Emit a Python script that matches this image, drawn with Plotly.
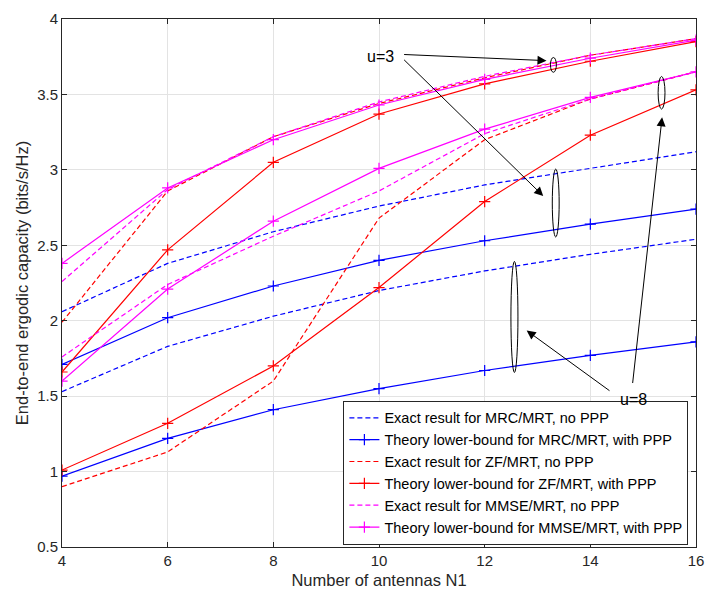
import plotly.graph_objects as go

N = [4, 6, 8, 10, 12, 14, 16]
mrc_exact_u3 = [2.06, 2.38, 2.59, 2.76, 2.90, 3.01, 3.12]
mrc_theory_u3 = [1.71, 2.02, 2.23, 2.40, 2.53, 2.64, 2.74]
mrc_exact_u8 = [1.53, 1.83, 2.03, 2.20, 2.33, 2.44, 2.54]
mrc_theory_u8 = [0.97, 1.22, 1.41, 1.55, 1.67, 1.77, 1.86]
zf_exact_u3 = [1.99, 2.86, 3.22, 3.44, 3.61, 3.76, 3.87]
zf_theory_u3 = [1.66, 2.47, 3.05, 3.37, 3.57, 3.72, 3.85]
zf_exact_u8 = [0.90, 1.13, 1.60, 2.68, 3.20, 3.47, 3.65]
zf_theory_u8 = [1.01, 1.32, 1.70, 2.22, 2.79, 3.23, 3.53]
mmse_exact_u3 = [2.26, 2.87, 3.22, 3.45, 3.62, 3.76, 3.87]
mmse_theory_u3 = [2.38, 2.88, 3.20, 3.43, 3.60, 3.74, 3.86]
mmse_exact_u8 = [1.76, 2.24, 2.56, 2.86, 3.24, 3.47, 3.65]
mmse_theory_u8 = [1.60, 2.21, 2.66, 3.01, 3.27, 3.48, 3.65]

labels = [
    "Exact result for MRC/MRT, no PPP",
    "Theory lower-bound for MRC/MRT, with PPP",
    "Exact result for ZF/MRT, no PPP",
    "Theory lower-bound for ZF/MRT, with PPP",
    "Exact result for MMSE/MRT, no PPP",
    "Theory lower-bound for MMSE/MRT, with PPP",
]

BLUE, RED, MAG = "#0000ff", "#ff0000", "#ff00ff"
series = [
    (labels[0], BLUE, False, [mrc_exact_u3, mrc_exact_u8]),
    (labels[1], BLUE, True, [mrc_theory_u3, mrc_theory_u8]),
    (labels[2], RED, False, [zf_exact_u3, zf_exact_u8]),
    (labels[3], RED, True, [zf_theory_u3, zf_theory_u8]),
    (labels[4], MAG, False, [mmse_exact_u3, mmse_exact_u8]),
    (labels[5], MAG, True, [mmse_theory_u3, mmse_theory_u8]),
]

fig = go.Figure()
for i, (name, color, theory, ys) in enumerate(series):
    for j, y in enumerate(ys):
        if theory:
            fig.add_trace(go.Scatter(
                x=N, y=y, name=name, legendgroup=name, showlegend=(j == 0),
                mode="lines+markers",
                line=dict(color=color, width=1.2),
                marker=dict(symbol="cross-thin", size=8, line=dict(color=color, width=1.2)),
            ))
        else:
            fig.add_trace(go.Scatter(
                x=N, y=y, name=name, legendgroup=name, showlegend=(j == 0),
                mode="lines",
                line=dict(color=color, width=1.2, dash="5px,3px"),
            ))

# ellipses
ellipses = [
    (13.245, 13.357, 3.647, 3.745),
    (13.28, 13.41, 2.555, 3.005),
    (15.283, 15.413, 3.403, 3.619),
    (12.497, 12.63, 1.657, 2.393),
]
for x0, x1, y0, y1 in ellipses:
    fig.add_shape(type="circle", xref="x", yref="y", x0=x0, x1=x1, y0=y0, y1=y1,
                  line=dict(color="black", width=1))

arrows = [
    ((10.447, 3.765), (13.17, 3.724)),
    ((10.447, 3.739), (13.108, 2.827)),
    ((14.391, 1.529), (12.795, 1.935)),
    ((14.798, 1.577), (15.358, 3.348)),
]
for (ax, ay), (x, y) in arrows:
    fig.add_annotation(x=x, y=y, ax=ax, ay=ay, xref="x", yref="y", axref="x", ayref="y",
                       text="", showarrow=True, arrowhead=2, arrowsize=1.8,
                       arrowwidth=1, arrowcolor="black")

fig.add_annotation(x=10.02, y=3.752, xref="x", yref="y", text="u=3", showarrow=False,
                   font=dict(size=16, color="black"))
fig.add_annotation(x=14.822, y=1.477, xref="x", yref="y", text="u=8", showarrow=False,
                   font=dict(size=16, color="black"))

axis_common = dict(
    showgrid=True, gridcolor="#e3e3e3", gridwidth=1,
    showline=True, linecolor="#262626", linewidth=1, mirror="ticks",
    ticks="inside", ticklen=5, tickcolor="#262626",
    tickfont=dict(size=15, color="#262626"), zeroline=False,
)
fig.update_xaxes(range=[4, 16], tickvals=[4, 6, 8, 10, 12, 14, 16],
                 title=dict(text="Number of antennas N1", font=dict(size=16.5, color="#262626"), standoff=6),
                 **axis_common)
fig.update_yaxes(range=[0.5, 4], tickvals=[0.5, 1, 1.5, 2, 2.5, 3, 3.5, 4],
                 ticktext=["0.5", "1", "1.5", "2", "2.5", "3", "3.5", "4"],
                 title=dict(text="End-to-end ergodic capacity (bits/s/Hz)", font=dict(size=16.5, color="#262626"), standoff=4),
                 **axis_common)

fig.update_layout(
    width=714, height=602,
    margin=dict(l=62, r=13, t=10, b=55),
    plot_bgcolor="white", paper_bgcolor="white",
    font=dict(family="Liberation Sans, Arial, sans-serif", color="#262626"),
    legend=dict(x=0.988, y=0.004, xanchor="right", yanchor="bottom",
                bgcolor="white", bordercolor="#262626", borderwidth=1,
                font=dict(size=14.5, color="black"), itemwidth=30,
                tracegroupgap=0),
    showlegend=True,
)

fig.write_html("out.html")
